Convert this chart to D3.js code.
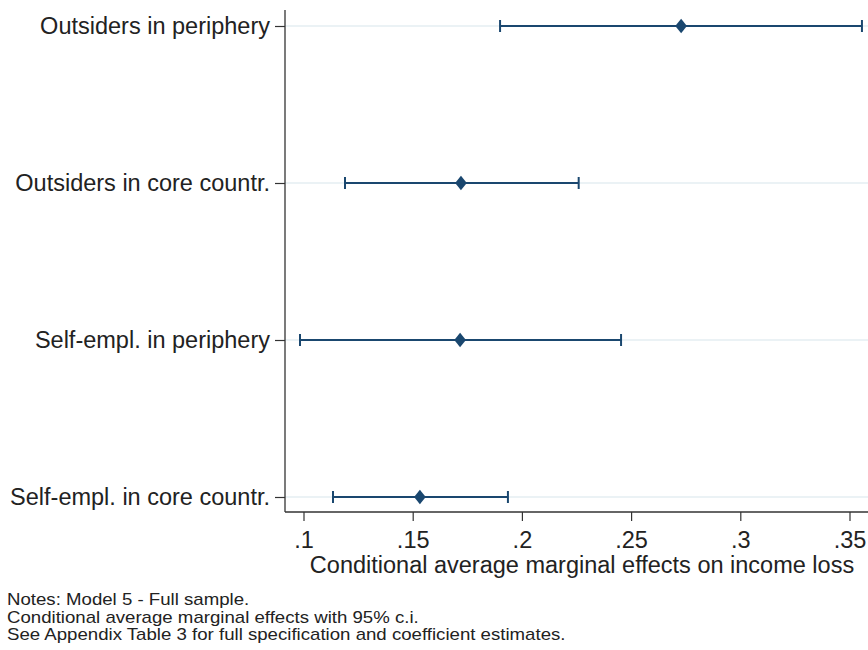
<!DOCTYPE html>
<html><head><meta charset="utf-8">
<script src="https://cdn.jsdelivr.net/npm/d3@7"></script>
<style>body{margin:0;background:#fff}svg{display:block}text{font-family:"Liberation Sans",Arial,sans-serif;fill:#222}</style>
</head><body>
<svg id="c" width="868" height="650"></svg>
<script>
const categories = ["Outsiders in periphery","Outsiders in core countr.","Self-empl. in periphery","Self-empl. in core countr."];
const estimates = [0.2729, 0.1721, 0.1717, 0.1533];
const lowerCI = [0.190, 0.119, 0.0984, 0.1135];
const upperCI = [0.3557, 0.226, 0.2454, 0.1936];
const xTicks = [0.1, 0.15, 0.2, 0.25, 0.3, 0.35];
const xTickLabels = [".1", ".15", ".2", ".25", ".3", ".35"];
const notes = ["Notes: Model 5 - Full sample.","Conditional average marginal effects with 95% c.i.","See Appendix Table 3 for full specification and coefficient estimates."];

(function(){
const svg = d3.select("#c");
const navy = "#1a476f";
const x = d3.scaleLinear().domain([0.1, 0.35]).range([303.5, 849.5]);
const y = d3.scalePoint().domain(categories).range([26, 497]);
const plotLeft = 285, plotTop = 10, plotBottom = 512;

svg.append("g").selectAll("line").data(categories).join("line")
  .attr("x1", plotLeft).attr("x2", 900).attr("y1", d => y(d)).attr("y2", d => y(d))
  .attr("stroke", "#e4eef2").attr("stroke-width", 1.5);

const yAxis = svg.append("g").attr("transform", `translate(${plotLeft},0)`)
  .call(d3.axisLeft(y).tickSize(10).tickPadding(5));
yAxis.select(".domain").attr("d", `M0,${plotTop}V${plotBottom}`).attr("stroke", "#333").attr("stroke-width", 1.3);
yAxis.selectAll(".tick line").attr("stroke", "#333").attr("stroke-width", 1.2);
yAxis.selectAll("text").style("font-size", "23.5px").attr("fill", "#222");

const xAxis = svg.append("g").attr("transform", `translate(0,${plotBottom})`)
  .call(d3.axisBottom(x).tickValues(xTicks).tickFormat((d,i) => xTickLabels[i]).tickSize(9).tickPadding(10));
xAxis.select(".domain").attr("d", `M${plotLeft},0H900`).attr("stroke", "#333").attr("stroke-width", 1.3);
xAxis.selectAll(".tick line").attr("stroke", "#333").attr("stroke-width", 1.2);
xAxis.selectAll("text").style("font-size", "23.5px").attr("fill", "#222");

svg.append("text").attr("x", 582).attr("y", 573).attr("text-anchor", "middle")
  .style("font-size", "23.5px").text("Conditional average marginal effects on income loss");

const g = svg.append("g");
categories.forEach((c, i) => {
  const yy = y(c);
  g.append("line").attr("x1", x(lowerCI[i])).attr("x2", x(upperCI[i])).attr("y1", yy).attr("y2", yy)
    .attr("stroke", navy).attr("stroke-width", 2);
  [lowerCI[i], upperCI[i]].forEach(v => {
    g.append("line").attr("x1", x(v)).attr("x2", x(v)).attr("y1", yy - 6).attr("y2", yy + 6)
      .attr("stroke", navy).attr("stroke-width", 2);
  });
  g.append("path").attr("d", d3.symbol(d3.symbolDiamond2, 120)())
    .attr("transform", `translate(${x(estimates[i])},${yy}) scale(0.85,1.05)`).attr("fill", navy);
});

notes.forEach((t, i) => {
  svg.append("text").attr("transform", `translate(7,${605 + i * 17.5}) scale(1.18,1)`)
    .style("font-size", "15.8px").text(t);
});
})();
</script>
</body></html>
